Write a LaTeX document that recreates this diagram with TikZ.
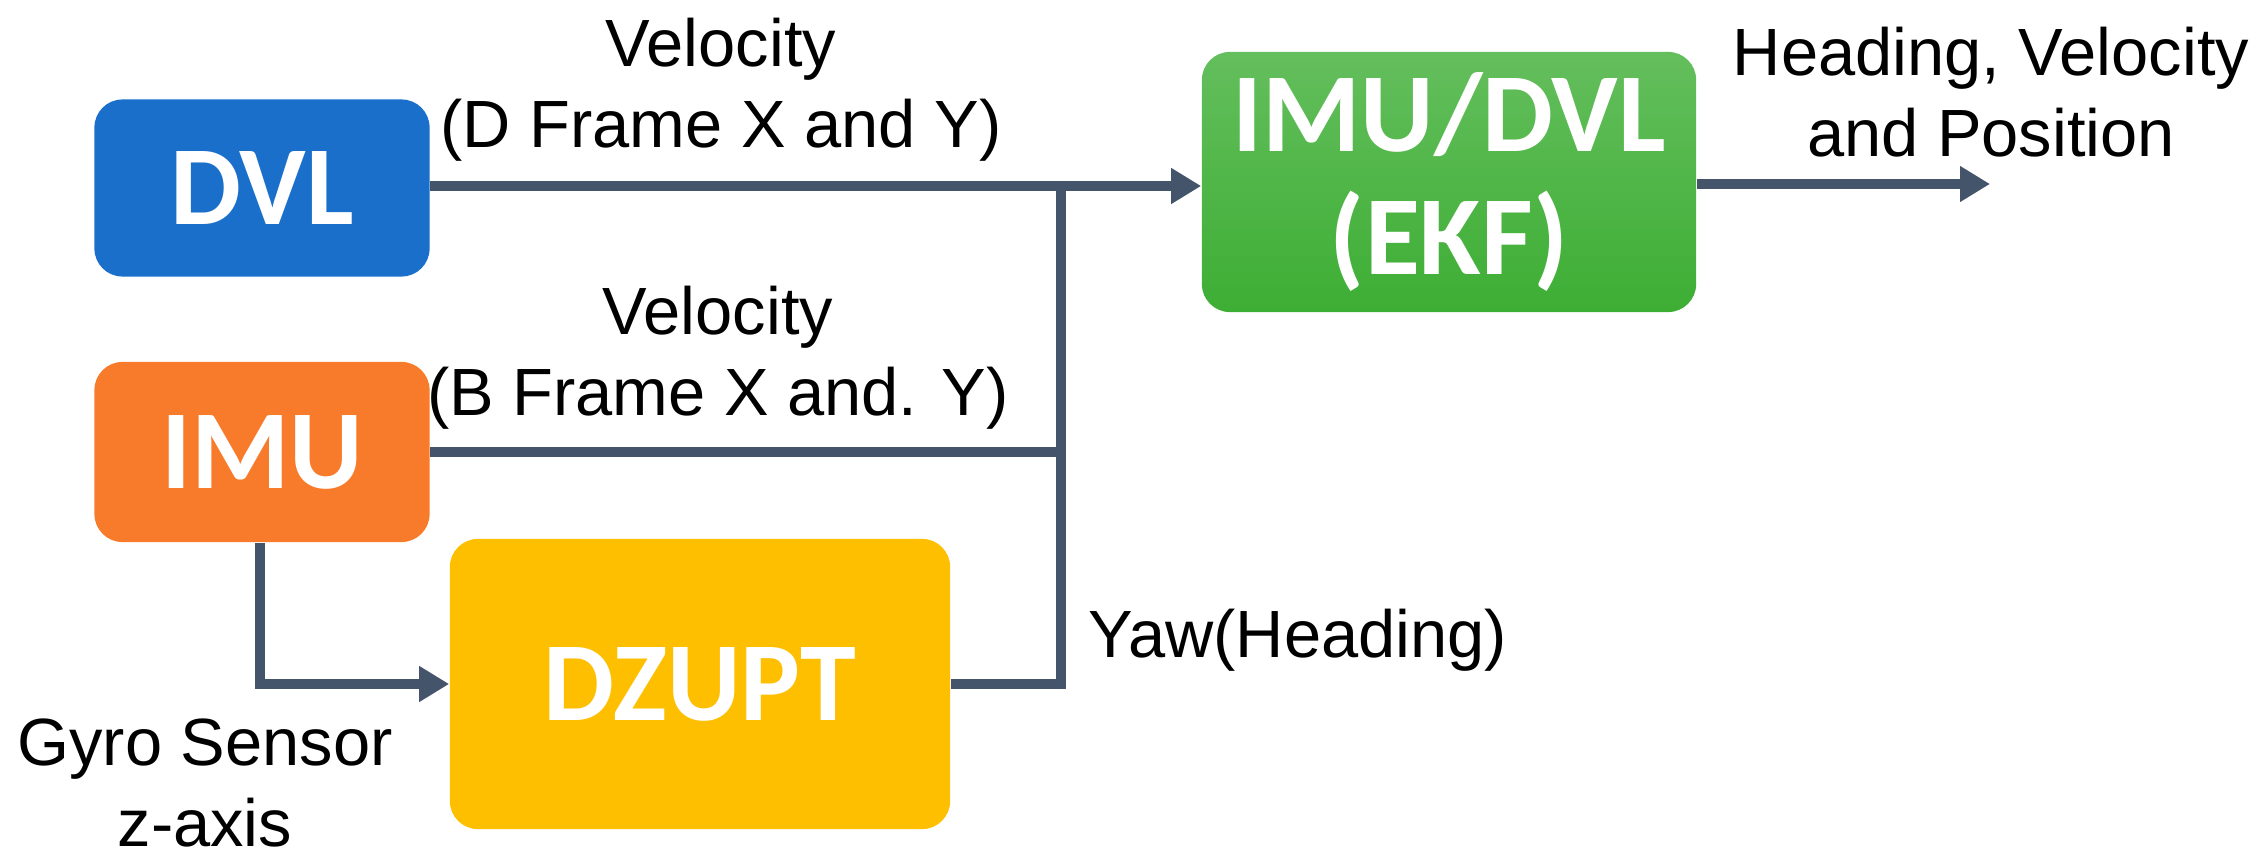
\documentclass[tikz,border=0pt]{standalone}
\usepackage{fontspec}
\setmainfont{Liberation Sans}
\newfontfamily\boxfont{Carlito}
\usetikzlibrary{arrows.meta}
\definecolor{dvlblue}{HTML}{1A6FCB}
\definecolor{imuorange}{HTML}{F77B2B}
\definecolor{zuptyellow}{HTML}{FDBF00}
\definecolor{ekfgreen}{HTML}{3DAE34}
\definecolor{linecol}{HTML}{44546A}
\tikzset{
  blk/.style={rounded corners=0.28cm, draw=none, text=white, font=\boxfont\bfseries\fontsize{32}{35}\selectfont, align=center, inner sep=0pt},
  conn/.style={draw=linecol, line width=3pt},
  arr/.style={conn, -{Triangle[length=0.3cm,width=0.34cm]}},
  lbl/.style={font=\fontsize{19}{23}\selectfont, align=center, inner sep=0pt}
}
\begin{document}
\begin{tikzpicture}[x=0.01cm,y=-0.01cm]
\useasboundingbox (0,0) rectangle (2263,858);
% boxes
\node[blk, fill=dvlblue, minimum width=3.35cm, minimum height=1.77cm] (dvl) at (262,188) {DVL};
\node[blk, fill=imuorange, minimum width=3.35cm, minimum height=1.8cm] (imu) at (262,452) {IMU};
\node[blk, fill=zuptyellow, minimum width=5cm, minimum height=2.9cm] (zupt) at (700,684) {DZUPT};
\node[blk, top color=ekfgreen!80!white, bottom color=ekfgreen, minimum width=4.94cm, minimum height=2.6cm] (ekf) at (1449,182) {IMU/DVL\\(EKF)};
% junction points
\coordinate (jtop) at (1061,186);
\coordinate (jmid) at (1061,452);
\coordinate (jbot) at (1061,684);
\coordinate (bend) at (260,684);
\coordinate (out) at (1990,184);
% connectors
\draw[arr] (dvl.east |- jtop) -- (ekf.west |- jtop);
\draw[conn] (imu.east |- jmid) -- (jmid);
\draw[conn] (zupt.east |- jbot) -- (jbot) -- (jtop);
\draw[arr] (imu.south -| bend) -- (bend) -- (zupt.west |- bend);
\draw[arr] (ekf.east |- out) -- (out);
% labels
\node[lbl] (l1) at (721,90) {Velocity\\(D Frame X and Y)};
\node[lbl] (l2) at (718,358) {Velocity\\(B Frame X and. Y)};
\node[lbl, anchor=west] (l3) at (1088,640) {Yaw(Heading)};
\node[lbl] (l4) at (205,783) {Gyro Sensor\\z-axis};
\node[lbl] (l5) at (1991,92) {Heading, Velocity\\and Position};
\end{tikzpicture}
\end{document}
